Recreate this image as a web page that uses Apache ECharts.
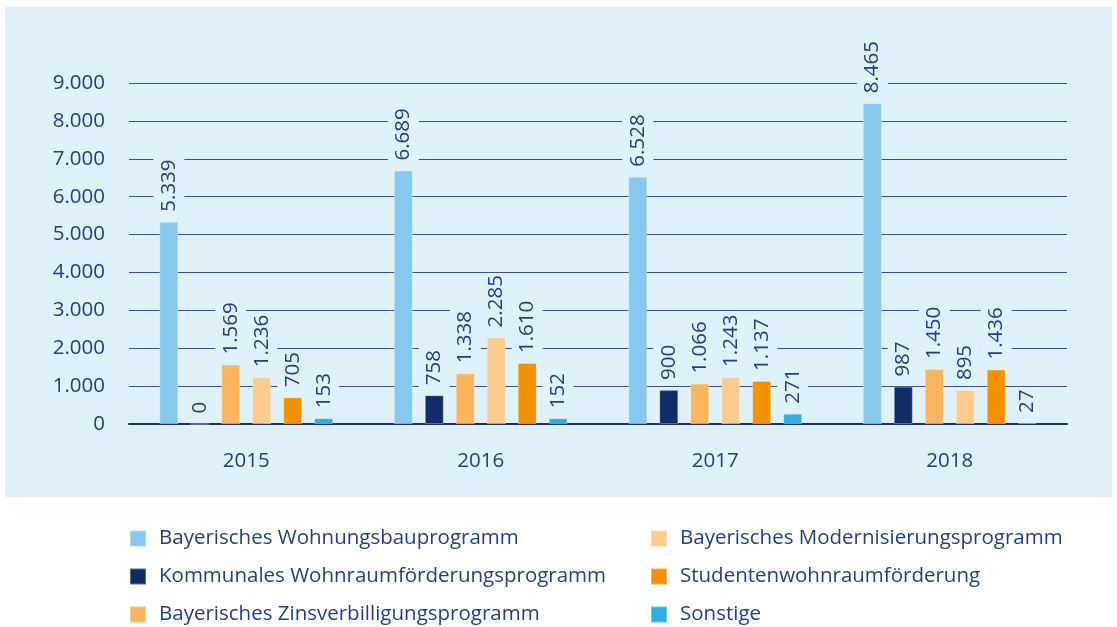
<!DOCTYPE html>
<html>
<head>
<meta charset="utf-8">
<script src="https://cdn.jsdelivr.net/npm/echarts@6/dist/echarts.min.js"></script>
<style>
html,body{margin:0;padding:0;background:#fff;}
#chart{width:1117px;height:627px;}
</style>
</head>
<body>
<div id="chart"></div>
<script>
const categories = ['2015', '2016', '2017', '2018'];
const seriesNames = [
  'Bayerisches Wohnungsbauprogramm',
  'Kommunales Wohnraumförderungsprogramm',
  'Bayerisches Zinsverbilligungsprogramm',
  'Bayerisches Modernisierungsprogramm',
  'Studentenwohnraumförderung',
  'Sonstige'
];
const wohnungsbau = [5339, 6689, 6528, 8465];
const kommunal = [0, 758, 900, 987];
const zins = [1569, 1338, 1066, 1450];
const modernisierung = [1236, 2285, 1243, 895];
const studenten = [705, 1610, 1137, 1436];
const sonstige = [153, 152, 271, 27];
const yTicks = [0, 1000, 2000, 3000, 4000, 5000, 6000, 7000, 8000, 9000];

const seriesValues = [wohnungsbau, kommunal, zins, modernisierung, studenten, sonstige];
const colors = ['#88c8ef', '#112d68', '#f8b55d', '#fccb8e', '#f29200', '#30ade3'];
const textColor = '#243f7b';
const FONT = 'Open Sans';
const FS = 20.5;
const bg = '#dff1f9';

function fmt(v) {
  return String(v).replace(/\B(?=(\d{3})+(?!\d))/g, '.');
}

const legendBase = {
  orient: 'vertical', top: 525, height: 140, padding: 0,
  itemWidth: 16, itemHeight: 16, itemGap: 11,
  icon: 'rect',
  textStyle: {color: textColor, fontSize: FS, fontFamily: FONT, padding: [0, 0, 0, 8], lineHeight: 27}
};

const chart = echarts.init(document.getElementById('chart'), null, {renderer: 'canvas'});
chart.setOption({
  backgroundColor: '#ffffff',
  animation: false,
  color: colors,
  textStyle: {fontFamily: FONT},
  graphic: {
    elements: [{
      type: 'rect', z: -100, silent: true,
      shape: {x: 5, y: 7, width: 1107, height: 490},
      style: {fill: bg}
    }]
  },
  grid: {left: 129, right: 50, top: 83, bottom: 203, containLabel: false},
  legend: [
    Object.assign({}, legendBase, {left: 129, data: seriesNames.slice(0, 3)}),
    Object.assign({}, legendBase, {left: 650, data: seriesNames.slice(3)})
  ],
  xAxis: {
    type: 'category',
    data: categories,
    axisLine: {show: true, lineStyle: {color: '#1a3068', width: 2}},
    axisTick: {show: false},
    axisLabel: {color: textColor, fontSize: FS, fontFamily: FONT, margin: 27}
  },
  yAxis: {
    type: 'value',
    min: 0, max: 9000, interval: 1000,
    axisLine: {show: false},
    axisTick: {show: false},
    splitLine: {show: true, lineStyle: {color: '#33508a', width: 1}},
    axisLabel: {
      color: textColor, fontSize: FS, fontFamily: FONT, margin: 24,
      formatter: function (v) { return yTicks.indexOf(v) >= 0 ? fmt(v) : ''; }
    }
  },
  series: seriesNames.map(function (name, i) {
    return {
      name: name,
      type: 'bar',
      data: seriesValues[i],
      barWidth: 19,
      barGap: '63%',
      itemStyle: {color: colors[i], borderColor: 'rgba(255,255,255,0.3)', borderWidth: 1},
      label: {
        show: true,
        position: 'top',
        rotate: 90,
        align: 'left',
        verticalAlign: 'middle',
        distance: 8,
        color: textColor,
        fontSize: FS,
        fontFamily: FONT,
        backgroundColor: bg,
        padding: [5, 2, 5, 2],
        formatter: function (p) { return fmt(p.value); }
      }
    };
  })
});
</script>
</body>
</html>
